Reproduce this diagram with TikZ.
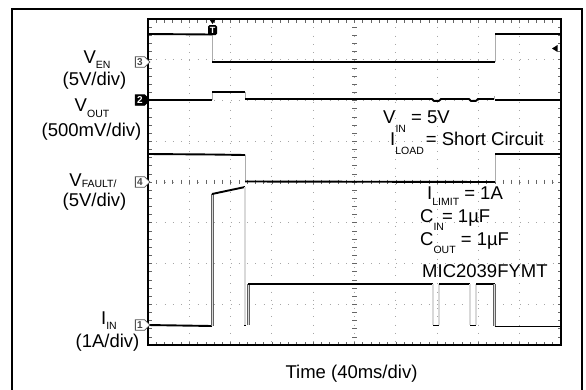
\documentclass[tikz,border=0pt]{standalone}
\usepackage{fontspec}
\setmainfont{Liberation Sans}
\usetikzlibrary{shapes.symbols}
\newcommand{\sbs}[2]{\raisebox{-#1}{\fontsize{10.5}{12}\selectfont #2}}
\begin{document}
\begin{tikzpicture}[x=1pt,y=-1pt,
  griddot/.style={gray!70, line width=0.9pt, dash pattern=on 0.9pt off 7.36pt},
  tk/.style={gray!80!black, line width=0.6pt},
  trace/.style={black, line width=1.9pt, line join=round},
  vt/.style={gray!65, line width=0.9pt},
  vtd/.style={draw=gray!75!black, line width=0.75pt, double=gray!30, double distance=1.3pt},
  lbl/.style={font=\fontsize{18.5}{20}\selectfont, inner sep=0pt, anchor=base},
  lblw/.style={lbl, anchor=base west},
  tag/.style={signal, signal to=east, draw=gray!65!black, fill=white, line width=0.8pt,
    text=gray!55!black, font=\fontsize{10}{10}\selectfont\bfseries, inner sep=0.6pt,
    minimum height=10.5pt, minimum width=14.5pt}
]
\useasboundingbox (0,0) rectangle (586,389);
\fill[white] (0,0) rectangle (586,389);
% outer frame
\draw[line width=1.8pt] (12,392) -- (12,9) -- (582,9) -- (582,392);
% grid
\foreach \i in {1,...,9} {\draw[griddot] ({148+\i*41.3},19) -- ({148+\i*41.3},345);}
\foreach \j in {1,...,7} {\draw[griddot] (148,{19+\j*40.75}) -- (561,{19+\j*40.75});}
\foreach \k in {1,...,49} {
  \pgfmathsetmacro{\xx}{148+\k*8.26}
  \draw[tk] (\xx,19) -- (\xx,22.5);
  \draw[tk] (\xx,345) -- (\xx,341.5);
  \draw[tk] (\xx,179.8) -- (\xx,184.2);
}
\foreach \k in {1,...,39} {
  \pgfmathsetmacro{\yy}{19+\k*8.15}
  \draw[tk] (148,\yy) -- (151.5,\yy);
  \draw[tk] (561,\yy) -- (557.5,\yy);
  \draw[tk] (352.3,\yy) -- (356.7,\yy);
}
\draw[line width=1.8pt] (148,19) rectangle (561,345);

% V_EN trace
\draw[trace] (148,34) -- (212,34.5);
\draw[vt] (212,34) -- (212,62);
\draw[trace] (212,62) -- (495,62);
\draw[vt] (495,62) -- (495,34);
\draw[trace] (495,34) -- (561,34);

% V_OUT trace
\draw[trace] (148,100) -- (212,100);
\draw[vt] (212,100) -- (212,92);
\draw[trace] (212,92) -- (245,92);
\draw[vt] (245,92) -- (245,99);
\draw[trace] (245,99) -- (432,99) -- (434,101) -- (439,100.8) -- (441,99) -- (469,99) -- (471,101) -- (476,100.8) -- (478,99) -- (494,99);
\draw[vt] (494.5,99) -- (494.5,95.5);
\draw[trace] (495,100) -- (561,100);

% V_FAULT trace
\draw[trace] (148,154) -- (212,154.5) -- (245,155);
\draw[vt] (245,155) -- (245,182);
\draw[trace] (245,181.5) -- (495,182);
\draw[vt] (495,182) -- (495,154);
\draw[trace] (495,154) -- (561,154);

% I_IN trace
\draw[trace] (148,325) -- (212,326);
\draw[vtd] (212.5,326) -- (212.5,194);
\draw[trace] (212,194) -- (245,187);
\draw[vtd] (245,187) -- (245,325);
\draw[trace] (244,325.5) -- (246,325.5);
\draw[vtd] (248.5,325) -- (248.5,284);
\draw[trace] (248,284) -- (433,284);
\draw[vtd] (433,284) -- (433,325);
\draw[trace] (433,325.5) -- (439,325.5);
\draw[vtd] (439,325) -- (439,284);
\draw[trace] (439,284) -- (470,284);
\draw[vtd] (470,284) -- (470,325);
\draw[trace] (470,325.5) -- (476,325.5);
\draw[vtd] (476,325) -- (476,284);
\draw[trace] (476,284) -- (494.5,284);
\draw[vtd] (494.5,284) -- (494.5,326);
\draw[trace] (494.5,326.5) -- (561,326.5);

% channel markers
\node[tag] (m3) at (140,62) {3};
\node[tag, fill=black, draw=black, text=white] (m2) at (140,100) {2};
\node[tag] (m4) at (140,182) {4};
\node[tag] (m1) at (140,325) {1};
% trigger marker
\node[fill=black, rounded corners=1.5pt, minimum width=9pt, minimum height=10pt, inner sep=0pt,
  text=white, font=\fontsize{9}{9}\selectfont\bfseries] (trig) at (212.5,30) {T};
\fill (209.5,19.5) -- (215.5,19.5) -- (212.5,24) -- cycle;
% right level marker
\fill (552,48.5) -- (557.5,45) -- (557.5,52) -- cycle;

% left labels
\node[lbl] (ven) at (97,63) {V\sbs{5pt}{EN}};
\node[lbl] (vend) at (94.5,85) {(5V/div)};
\node[lbl] (vout) at (92,111) {V\sbs{6pt}{OUT}};
\node[lbl] (voutd) at (91.5,136) {(500mV/div)};
\node[lbl] (vf) at (93,186) {V\sbs{1pt}{FAULT/}};
\node[lbl] (vfd) at (94.5,206) {(5V/div)};
\node[lbl] (iin) at (109,324) {I\sbs{5.5pt}{IN}};
\node[lbl] (iind) at (107.5,347) {(1A/div)};

% right annotation
\node[lblw] (a1) at (383,123) {V\sbs{9pt}{IN} = 5V};
\node[lblw] (a2) at (390,145) {I\sbs{9pt}{LOAD}\hspace{2pt}= Short Circuit};
\node[lblw] (a3) at (427,199.5) {I\sbs{5.5pt}{LIMIT} = 1A};
\node[lblw] (a4) at (420,222) {C\sbs{8pt}{IN}\hspace{-2pt}= 1µF};
\node[lblw] (a5) at (420,245.5) {C\sbs{8pt}{OUT} = 1µF};
\node[lblw] (a6) at (422,277) {MIC2039FYMT};

% x-axis label
\node[lbl] (time) at (351.5,378) {Time (40ms/div)};
\end{tikzpicture}
\end{document}
